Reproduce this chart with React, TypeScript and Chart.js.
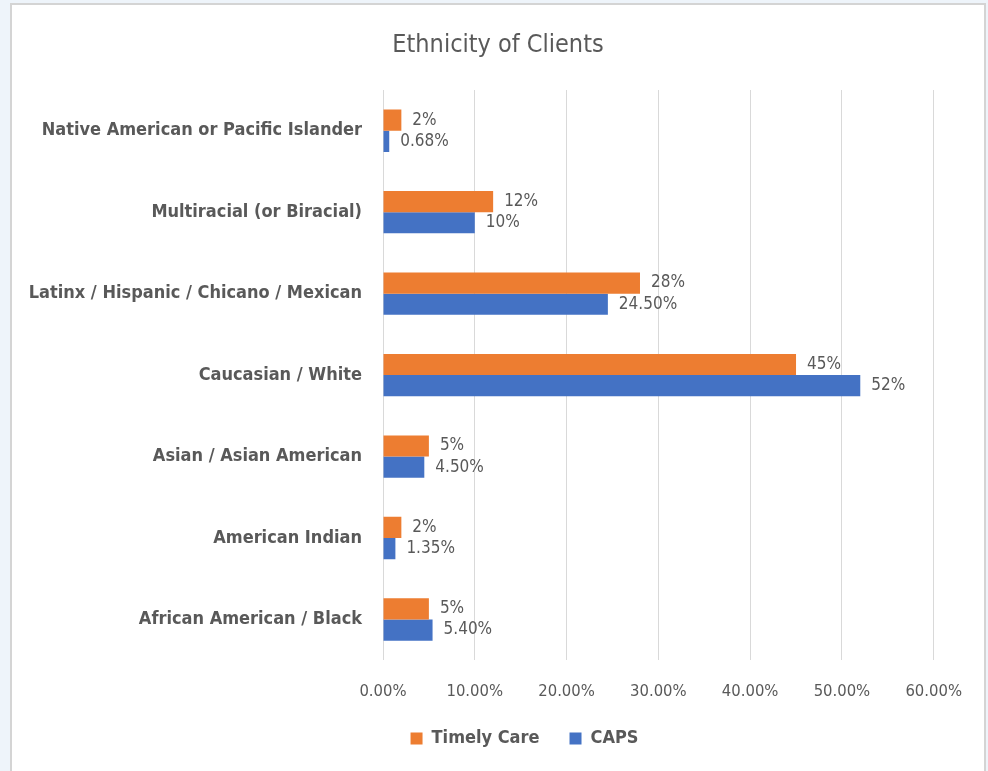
import React, { useEffect, useRef } from "react";
import { Chart, registerables } from "chart.js";

Chart.register(...registerables);

const categories = [
  "Native American or Pacific Islander",
  "Multiracial (or Biracial)",
  "Latinx / Hispanic / Chicano / Mexican",
  "Caucasian / White",
  "Asian / Asian American",
  "American Indian",
  "African American / Black",
];

const timelyCare = [0.02, 0.12, 0.28, 0.45, 0.05, 0.02, 0.05];
const caps = [0.0068, 0.1, 0.245, 0.52, 0.045, 0.0135, 0.054];

const timelyCareLabels = ["2%", "12%", "28%", "45%", "5%", "2%", "5%"];
const capsLabels = ["0.68%", "10%", "24.50%", "52%", "4.50%", "1.35%", "5.40%"];

const FONT = '"Liberation Sans Narrow", "DejaVu Sans Condensed", "Open Sans", sans-serif';
const TEXT = "#595959";

const dataLabelPlugin = {
  id: "dataLabels",
  afterLayout(chart: any) {
    // let the long category labels use the left padding area
    if (chart.scales.y) chart.scales.y.left = 0;
    if (chart.legend) {
      chart.legend.left += 26.5;
      chart.legend.right += 26.5;
    }
  },
  afterDatasetsDraw(chart: any) {
    const ctx = chart.ctx;
    const all = [timelyCareLabels, capsLabels];
    ctx.save();
    ctx.font = `17px ${FONT}`;
    ctx.fillStyle = TEXT;
    ctx.textAlign = "left";
    ctx.textBaseline = "middle";
    chart.data.datasets.forEach((_: any, di: number) => {
      const meta = chart.getDatasetMeta(di);
      meta.data.forEach((el: any, i: number) => {
        ctx.fillText(all[di][i], el.x + 11, el.y);
      });
    });
    ctx.restore();
  },
};

export default function App() {
  const ref = useRef<HTMLCanvasElement | null>(null);

  useEffect(() => {
    if (!ref.current) return;
    const chart = new Chart(ref.current, {
      type: "bar",
      data: {
        labels: categories,
        datasets: [
          {
            label: "Timely Care",
            data: timelyCare,
            backgroundColor: "#ED7D31",
            categoryPercentage: 0.52,
            barPercentage: 1,
          },
          {
            label: "CAPS",
            data: caps,
            backgroundColor: "#4472C4",
            categoryPercentage: 0.52,
            barPercentage: 1,
          },
        ],
      },
      options: {
        indexAxis: "y",
        responsive: false,
        animation: false,
        devicePixelRatio: 1,
        layout: { padding: { left: 47, right: 47, top: 0, bottom: 13.5 } },
        plugins: {
          title: {
            display: true,
            text: "Ethnicity of Clients",
            color: TEXT,
            font: { family: FONT, size: 25, weight: "normal" },
            padding: { top: 25, bottom: 30 },
          },
          legend: {
            display: true,
            position: "bottom",
            labels: {
              color: TEXT,
              font: { family: FONT, size: 18, weight: "bold" },
              boxWidth: 12,
              boxHeight: 12,
              padding: 30,
            },
          },
          tooltip: { enabled: false },
        },
        scales: {
          x: {
            min: 0,
            max: 0.6,
            afterFit: (scale: any) => {
              scale.height = scale.height - 24.5;
            },
            ticks: {
              stepSize: 0.1,
              color: TEXT,
              padding: 22,
              font: { family: FONT, size: 16.5 },
              callback: (v: any) => (Number(v) * 100).toFixed(2) + "%",
            },
            grid: { color: "#d9d9d9", drawTicks: false, lineWidth: 1 },
            border: { display: false },
          },
          y: {
            afterFit: (scale: any) => {
              scale.width = 324;
            },
            ticks: {
              color: TEXT,
              padding: 21,
              font: { family: FONT, size: 18, weight: "bold" },
            },
            grid: { display: false, drawTicks: false },
            border: { display: false },
          },
        },
      },
      plugins: [dataLabelPlugin],
    } as any);
    return () => chart.destroy();
  }, []);

  return (
    <div style={{ position: "fixed", inset: 0, background: "#eef4fa" }}>
      <div
        style={{
          position: "absolute",
          left: 10,
          top: 3,
          width: 972,
          height: 800,
          border: "2px solid #d4d4d4",
          background: "#ffffff",
        }}
      >
        <canvas ref={ref} width={972} height={766} style={{ display: "block" }} />
      </div>
    </div>
  );
}
